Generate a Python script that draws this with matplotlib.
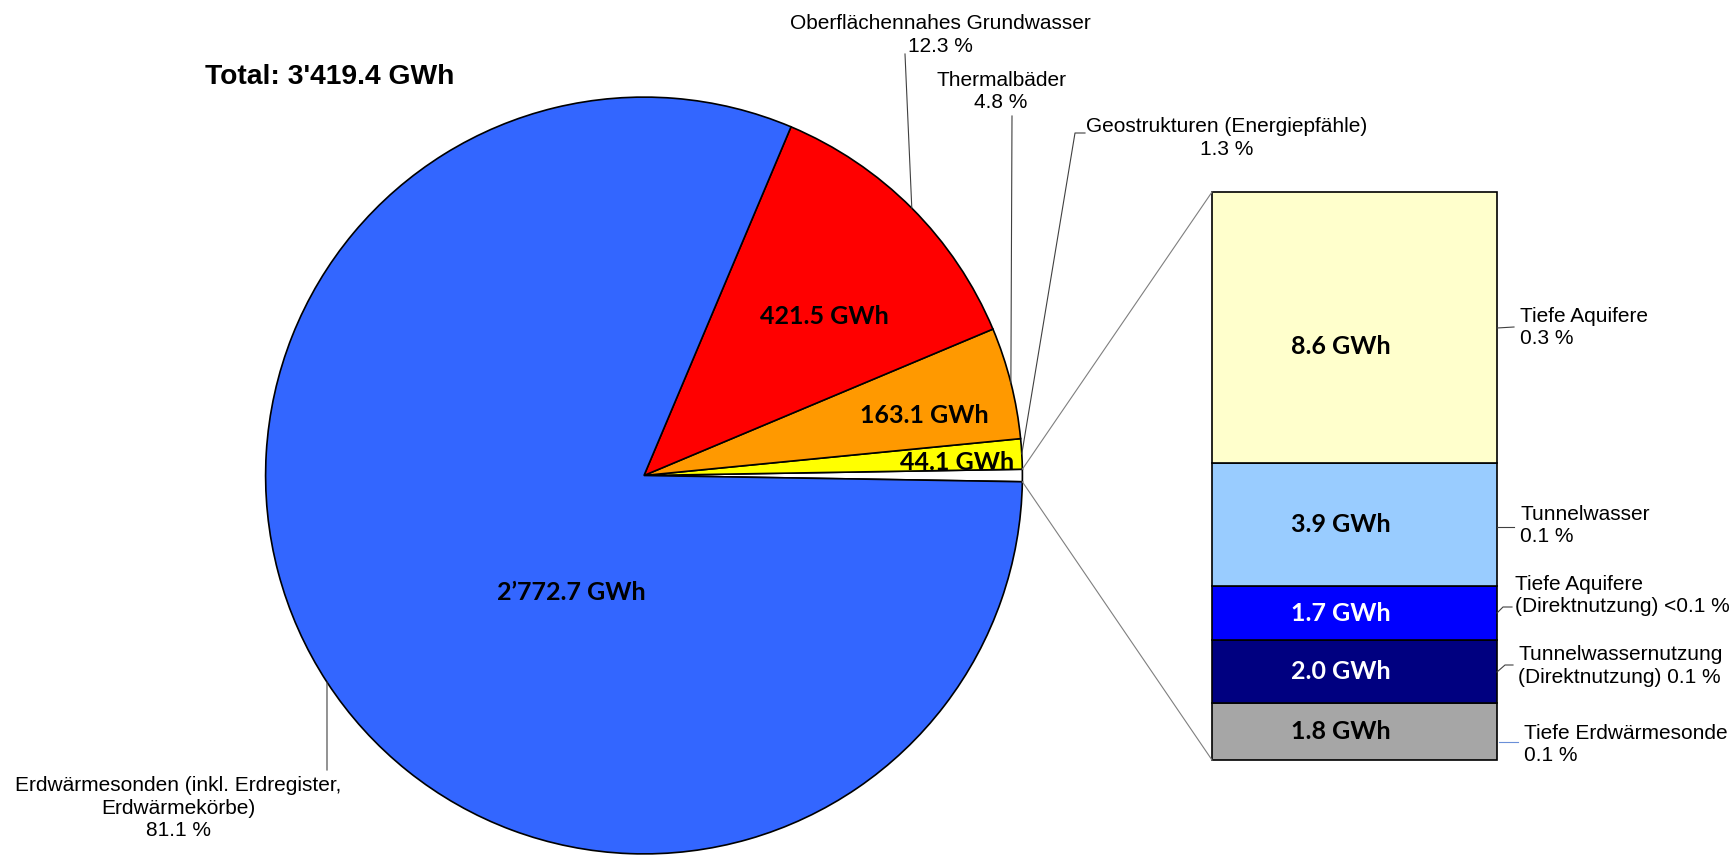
import numpy as np
import matplotlib
matplotlib.use("Agg")
import matplotlib.pyplot as plt
from matplotlib.lines import Line2D

# ---------------- data ----------------
title_total = "Total: 3'419.4 GWh"
pie_names = ["Übrige (Tiefe Geothermie, Tunnelwasser)",
             "Geostrukturen (Energiepfähle)",
             "Thermalbäder",
             "Oberflächennahes Grundwasser",
             "Erdwärmesonden (inkl. Erdregister,\nErdwärmekörbe)"]
main_values = [44.1, 163.1, 421.5, 2772.7]
pie_colors = ["#FFFFFF", "#FFFF00", "#FF9900", "#FF0000", "#3366FF"]

bar_names = ["Tiefe Erdwärmesonde",
             "Tunnelwassernutzung\n(Direktnutzung)",
             "Tiefe Aquifere\n(Direktnutzung)",
             "Tunnelwasser",
             "Tiefe Aquifere"]
bar_values = [1.8, 2.0, 1.7, 3.9, 8.6]
bar_colors = ["#A6A6A6", "#000080", "#0000FF", "#99CCFF", "#FFFFCC"]
bar_text_colors = ["black", "white", "white", "black", "black"]

other_value = sum(bar_values)
pie_values = [other_value] + main_values
total = sum(pie_values)

def gwh(v):
    return f"{v:,.1f}".replace(",", "\u2019") + " GWh"

def pct(v):
    p = v / total * 100
    return "<0.1 %" if round(p, 1) < 0.1 else f"{p:.1f} %"

# ---------------- layout (pixels) ----------------
W, H = 1735, 855
fig = plt.figure(figsize=(W / 100, H / 100), dpi=100)

def F(x, y):
    return (x / W, 1 - y / H)

LBL = dict(family=["Liberation Sans", "DejaVu Sans"], fontsize=15, color="black")
VAL = dict(family=["Lato", "DejaVu Sans"], fontsize=18, fontweight="bold")

cx, cy, r = 644, 475.5, 378.4
axp = fig.add_axes([(cx - r) / W, 1 - (cy + r) / H, 2 * r / W, 2 * r / H])
start = -pie_values[0] / total * 360 / 2
wedges, _ = axp.pie(pie_values, colors=pie_colors, startangle=start, counterclock=True,
                    radius=1, wedgeprops=dict(edgecolor="black", linewidth=1.2))
axp.set_xlim(-1, 1)
axp.set_ylim(-1, 1)
axp.axis("off")

def edge_pt(theta_deg, rr=1.0):
    t = np.deg2rad(theta_deg)
    return cx + r * rr * np.cos(t), cy - r * rr * np.sin(t)

# pie value labels (pixel positions of text centers)
val_pos = [None, (957, 462), (924, 415), (824, 317), (571, 593)]
for i, w in enumerate(wedges):
    if val_pos[i] is None:
        continue
    fig.text(*F(*val_pos[i]), gwh(pie_values[i]), ha="center", va="center", **VAL)

# pie category labels + leaders
lab_pos = [None, (1227, 138), (1001, 91.5), (940, 35), (178, 808)]
leader_start = [None, [(1085, 133), (1075, 133)], [(1012, 116)], [(905, 54)], [(327, 770)]]
for i, w in enumerate(wedges):
    if lab_pos[i] is None:
        continue
    fig.text(*F(*lab_pos[i]), pie_names[i] + "\n" + pct(pie_values[i]),
             ha="center", va="center", linespacing=1.26, **LBL)
    mid = (w.theta1 + w.theta2) / 2
    pts = leader_start[i] + [edge_pt(mid)]
    xs = [F(*p)[0] for p in pts]
    ys = [F(*p)[1] for p in pts]
    fig.add_artist(Line2D(xs, ys, color="#404040", lw=0.8))

# ---------------- bar of "other" ----------------
bx0, bx1, by0, by1 = 1212, 1497, 192, 760
axb = fig.add_axes([bx0 / W, 1 - by1 / H, (bx1 - bx0) / W, (by1 - by0) / H])
bottoms = np.concatenate([[0], np.cumsum(bar_values)[:-1]])
bars = axb.bar([0] * len(bar_values), bar_values, bottom=bottoms, width=1, align="edge",
               color=bar_colors, edgecolor="black", linewidth=1.2)
for b in bars:
    b.set_clip_on(False)
axb.set_xlim(0, 1)
axb.set_ylim(0, other_value)
axb.axis("off")

text_frac = [0.5, 0.5, 0.5, 0.5, 0.43]
for i, v in enumerate(bar_values):
    axb.text(0.453, bottoms[i] + v * text_frac[i], gwh(v), ha="center", va="center",
             color=bar_text_colors[i], **VAL)

# bar category labels (text left x, block center y) and leader lines
bar_lab = [(1524, 744.5), (1518, 666), (1515, 595.5), (1520, 525.5), (1520, 327.5)]
bar_leaders = [[(1499, 742), (1518, 742)],
               [(1497, 672), (1505, 665), (1513, 665)],
               [(1497, 613), (1503, 607), (1512, 607)],
               [(1497, 527), (1514, 527)],
               [(1497, 328), (1514, 327)]]
leader_colors = ["#6A8FD8", "#404040", "#404040", "#404040", "#404040"]
for i, v in enumerate(bar_values):
    sep = " " if "\n" in bar_names[i] else "\n"
    fig.text(*F(*bar_lab[i]), bar_names[i] + sep + pct(v), ha="left", va="center",
             linespacing=1.26, **LBL)
    pts = bar_leaders[i]
    fig.add_artist(Line2D([F(*p)[0] for p in pts], [F(*p)[1] for p in pts],
                          color=leader_colors[i], lw=0.8))

# series lines from pie "other" slice to the bar
w0 = wedges[0]
for th, yb in [(w0.theta2, by0), (w0.theta1, by1)]:
    p = edge_pt(th)
    fig.add_artist(Line2D([F(*p)[0], F(bx0, yb)[0]], [F(*p)[1], F(bx0, yb)[1]],
                          color="#7F7F7F", lw=0.8))

# title
fig.text(*F(205, 77), title_total, ha="left", va="center",
         family=["Liberation Sans", "DejaVu Sans"], fontsize=20.3, fontweight="bold")

fig.savefig("out.png", dpi=100, facecolor="white")
